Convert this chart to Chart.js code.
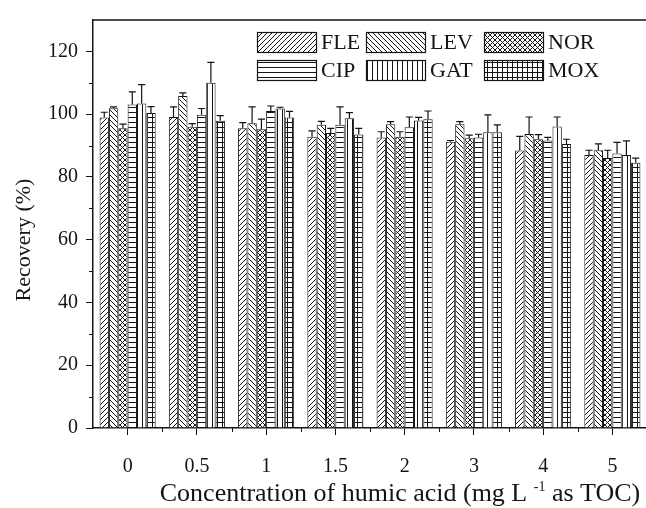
<!DOCTYPE html>
<html lang="en">
<head>
    <meta charset="UTF-8">
    <title>Recovery vs humic acid</title>
    <script src="https://cdn.jsdelivr.net/npm/chart.js"></script>
    <style>
        body {
            margin: 0;
            background: #fff;
            overflow: hidden;
        }
        #chartContainer {
            width: 651px;
            height: 508px;
        }
    </style>
</head>
<body>
    <div id="chartContainer">
        <canvas id="recoveryChart" width="651" height="508"></canvas>
    </div>

    <script>
        // Values
        const categories = ['0', '0.5', '1', '1.5', '2', '3', '4', '5'];
        const drugNames = ['FLE', 'LEV', 'NOR', 'CIP', 'GAT', 'MOX'];

        const fle = [98.9, 99.1, 95.5, 92.8, 92.6, 91.2, 88.4, 87.0];
        const lev = [101.9, 105.8, 97.1, 96.6, 96.8, 96.8, 93.7, 88.5];
        const nor = [95.5, 96.0, 95.2, 94.0, 92.8, 92.3, 92.0, 86.0];
        const cip = [103.1, 99.8, 101.0, 96.6, 95.8, 92.6, 91.6, 87.5];
        const gat = [103.4, 110.0, 101.8, 98.7, 98.0, 94.2, 96.1, 87.0];
        const mox = [100.4, 97.9, 98.9, 93.5, 98.4, 94.2, 90.5, 84.5];

        const fleErr = [1.7, 3.2, 1.8, 1.9, 1.8, 0.4, 4.5, 1.5];
        const levErr = [0.4, 1.0, 5.2, 1.1, 0.8, 0.8, 5.4, 2.0];
        const norErr = [1.3, 1.0, 3.2, 1.5, 1.6, 1.0, 1.5, 2.5];
        const cipErr = [4.0, 2.0, 1.6, 5.7, 3.3, 1.0, 1.0, 3.5];
        const gatErr = [6.0, 6.5, 0.4, 1.8, 1.0, 5.6, 3.0, 4.5];
        const moxErr = [2.0, 1.6, 2.0, 2.0, 2.6, 2.4, 1.5, 1.5];

        const yTicks = [0, 20, 40, 60, 80, 100, 120];

        const serif = "'Liberation Serif', 'Times New Roman', serif";
        const ink = '#141414';

        // hatch fills, one per drug
        function makePattern(kind) {
            const s = 5;
            const c = document.createElement('canvas');
            c.width = s;
            c.height = s;
            const g = c.getContext('2d');
            g.fillStyle = '#fff';
            g.fillRect(0, 0, s, s);
            g.strokeStyle = ink;
            g.lineWidth = 1;
            g.beginPath();
            if (kind === 'fwd' || kind === 'cross') {
                for (let k = -s; k <= s; k += s) {
                    g.moveTo(k, s);
                    g.lineTo(k + s, 0);
                }
            }
            if (kind === 'back' || kind === 'cross') {
                for (let k = -s; k <= s; k += s) {
                    g.moveTo(k, 0);
                    g.lineTo(k + s, s);
                }
            }
            if (kind === 'horiz' || kind === 'grid') {
                g.moveTo(0, 2.5);
                g.lineTo(s, 2.5);
            }
            if (kind === 'vert' || kind === 'grid') {
                g.moveTo(2.5, 0);
                g.lineTo(2.5, s);
            }
            g.stroke();
            return g.createPattern(c, 'repeat');
        }

        const patterns = ['fwd', 'back', 'cross', 'horiz', 'vert', 'grid'].map(makePattern);
        const seriesValues = [fle, lev, nor, cip, gat, mox];
        const seriesErrors = [fleErr, levErr, norErr, cipErr, gatErr, moxErr];

        // error bars (upper only), minor ticks, top frame line, titles, legend
        const extrasPlugin = {
            id: 'extras',
            afterDatasetsDraw(chart) {
                const ctx = chart.ctx;
                const y = chart.scales.y;
                ctx.save();
                ctx.strokeStyle = ink;
                ctx.lineWidth = 1.2;
                chart.data.datasets.forEach((ds, i) => {
                    const meta = chart.getDatasetMeta(i);
                    meta.data.forEach((bar, j) => {
                        const top = y.getPixelForValue(ds.data[j] + seriesErrors[i][j]);
                        const half = bar.width * 0.38;
                        ctx.beginPath();
                        ctx.moveTo(bar.x, bar.y);
                        ctx.lineTo(bar.x, top);
                        ctx.moveTo(bar.x - half, top);
                        ctx.lineTo(bar.x + half, top);
                        ctx.stroke();
                    });
                });
                ctx.restore();
            },
            afterDraw(chart) {
                const ctx = chart.ctx;
                const area = chart.chartArea;
                const x = chart.scales.x;
                const y = chart.scales.y;
                ctx.save();
                ctx.strokeStyle = ink;
                ctx.lineWidth = 1.5;
                ctx.beginPath();
                ctx.moveTo(area.left, area.top);
                ctx.lineTo(area.right + 10, area.top);
                ctx.stroke();

                // minor ticks
                ctx.lineWidth = 1;
                ctx.beginPath();
                for (let v = 10; v < 130; v += 20) {
                    const py = Math.round(y.getPixelForValue(v)) + 0.5;
                    ctx.moveTo(area.left - 4, py);
                    ctx.lineTo(area.left, py);
                }
                const step = x.getPixelForValue(1) - x.getPixelForValue(0);
                for (let j = 0; j < categories.length; j++) {
                    const px = Math.round(x.getPixelForValue(j) + step / 2) + 0.5;
                    ctx.moveTo(px, area.bottom);
                    ctx.lineTo(px, area.bottom + 4);
                }
                ctx.stroke();

                ctx.fillStyle = ink;
                ctx.textBaseline = 'alphabetic';

                // x title with a real superscript
                const partA = 'Concentration of humic acid (mg L ';
                const sup = '-1';
                const partB = ' as TOC)';
                ctx.font = '26px ' + serif;
                const wA = ctx.measureText(partA).width;
                const wB = ctx.measureText(partB).width;
                ctx.font = '14px ' + serif;
                const wS = ctx.measureText(sup).width;
                let tx = 400 - (wA + wS + wB) / 2;
                const ty = 501;
                ctx.font = '26px ' + serif;
                ctx.textAlign = 'left';
                ctx.fillText(partA, tx, ty);
                tx += wA;
                ctx.font = '14px ' + serif;
                ctx.fillText(sup, tx, ty - 10);
                tx += wS;
                ctx.font = '26px ' + serif;
                ctx.fillText(partB, tx, ty);

                // y title
                ctx.save();
                ctx.translate(30, 240);
                ctx.rotate(-Math.PI / 2);
                ctx.textAlign = 'center';
                ctx.font = '22px ' + serif;
                ctx.fillText('Recovery (%)', 0, 0);
                ctx.restore();

                // legend, 3 columns x 2 rows inside the plot
                const cols = [257, 366, 484];
                const rows = [32, 60];
                const bw = 59, bh = 20;
                ctx.font = '22px ' + serif;
                ctx.textAlign = 'left';
                ctx.textBaseline = 'middle';
                drugNames.forEach((name, i) => {
                    const bx = cols[i % 3];
                    const by = rows[Math.floor(i / 3)];
                    ctx.fillStyle = patterns[i];
                    ctx.fillRect(bx, by, bw, bh);
                    ctx.strokeStyle = ink;
                    ctx.lineWidth = 1.2;
                    ctx.strokeRect(bx + 0.5, by + 0.5, bw, bh);
                    ctx.fillStyle = ink;
                    ctx.fillText(name, bx + bw + 5, by + bh / 2 + 1);
                });
                ctx.restore();
            }
        };

        const ctx = document.getElementById('recoveryChart').getContext('2d');
        const recoveryChart = new Chart(ctx, {
            type: 'bar',
            data: {
                labels: categories,
                datasets: drugNames.map((name, i) => ({
                    label: name,
                    data: seriesValues[i],
                    backgroundColor: patterns[i],
                    borderColor: ink,
                    borderWidth: 1
                }))
            },
            options: {
                responsive: false,
                animation: false,
                layout: {
                    padding: { top: 16, right: 4, left: 0, bottom: 0 }
                },
                datasets: {
                    bar: {
                        barPercentage: 1,
                        categoryPercentage: 0.81
                    }
                },
                scales: {
                    x: {
                        offset: true,
                        grid: {
                            offset: false,
                            drawOnChartArea: false,
                            drawTicks: true,
                            tickLength: 7,
                            color: ink
                        },
                        border: { display: true, color: ink, width: 1.5 },
                        ticks: {
                            color: ink,
                            padding: 20,
                            maxRotation: 0,
                            font: { family: serif, size: 20 }
                        },
                        title: { display: false },
                        afterFit(scale) {
                            scale.height = 80;
                        }
                    },
                    y: {
                        min: 0,
                        max: 130,
                        afterBuildTicks(scale) {
                            scale.ticks = yTicks.map(v => ({ value: v }));
                        },
                        grid: {
                            drawOnChartArea: false,
                            drawTicks: true,
                            tickLength: 7,
                            color: ink
                        },
                        border: { display: true, color: ink, width: 1.5 },
                        ticks: {
                            color: ink,
                            padding: 8,
                            font: { family: serif, size: 20 }
                        },
                        title: { display: false },
                        afterFit(scale) {
                            scale.width = 93;
                        }
                    }
                },
                plugins: {
                    legend: { display: false },
                    tooltip: { enabled: false }
                }
            },
            plugins: [extrasPlugin]
        });
    </script>
</body>
</html>
